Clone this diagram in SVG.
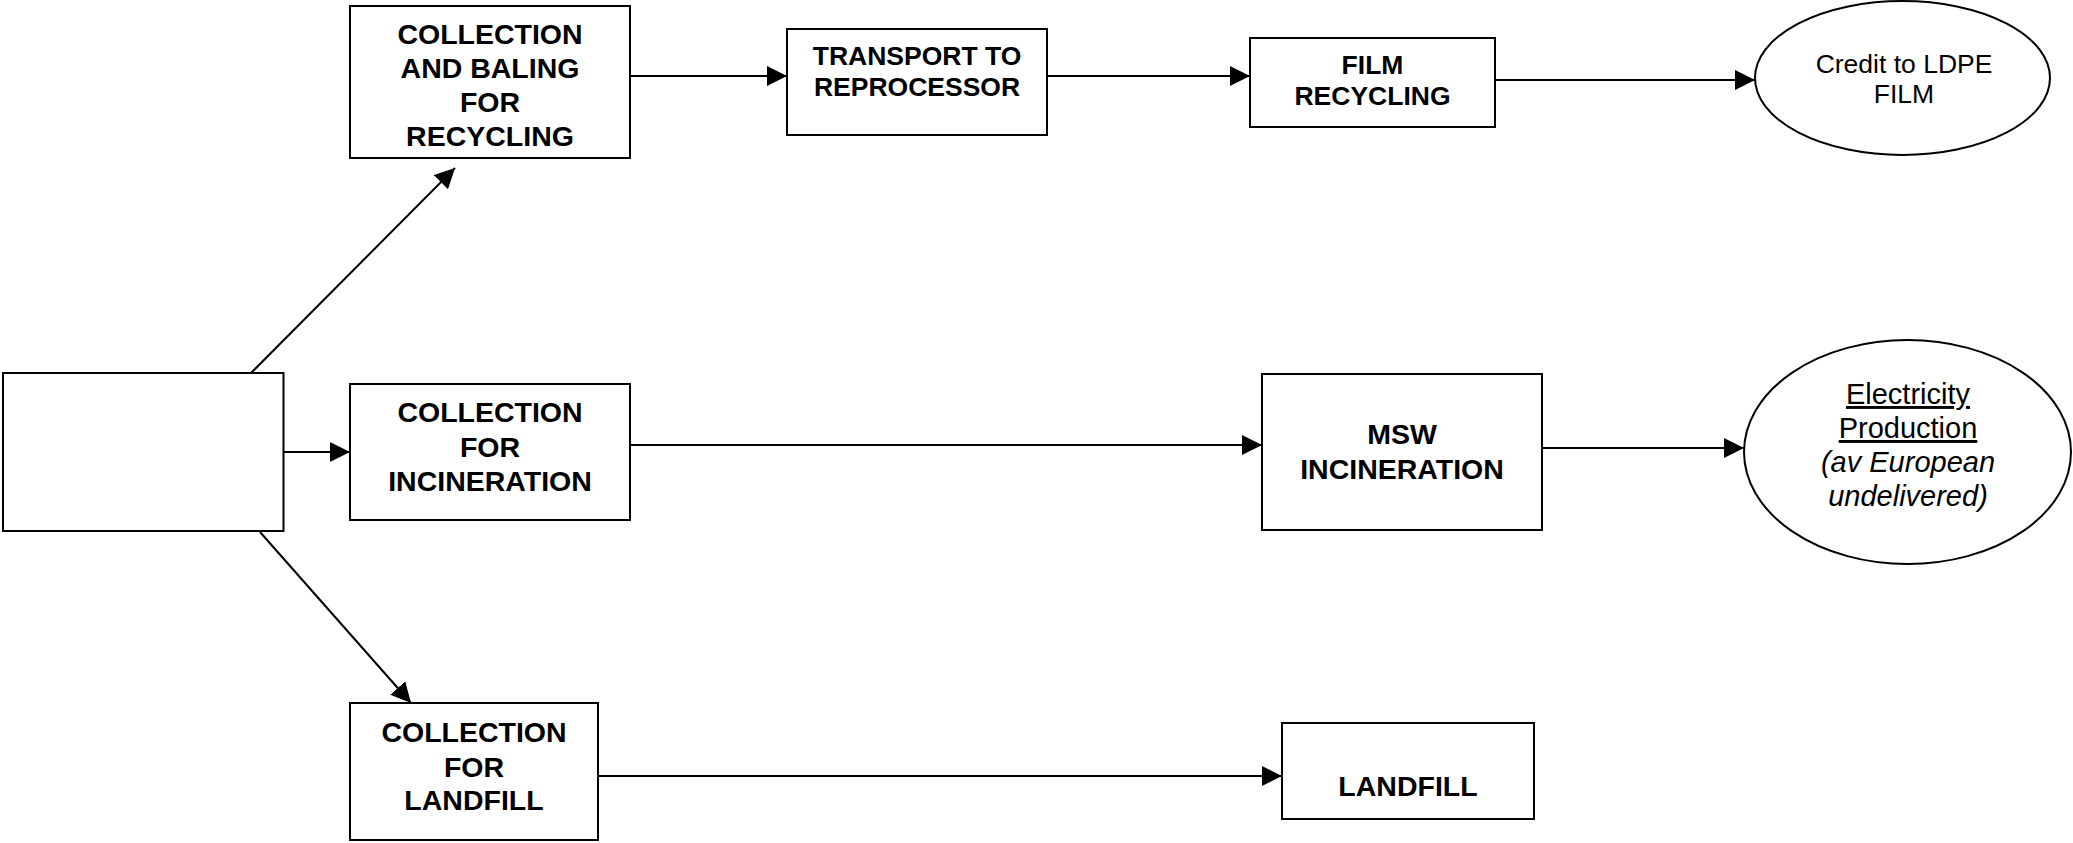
<svg xmlns="http://www.w3.org/2000/svg" width="2073" height="843" viewBox="0 0 2073 843">
  <style>
    .box { fill: #ffffff; stroke: #000000; stroke-width: 2; }
    .edge { fill: none; stroke: #000000; stroke-width: 2; marker-end: url(#arrow); }
    .lbl { font-family: "Liberation Sans", Arial, sans-serif; font-weight: bold; font-size: 28.5px; fill: #000000; text-anchor: middle; }
    .lbl-s { font-family: "Liberation Sans", Arial, sans-serif; font-weight: bold; font-size: 26.5px; fill: #000000; text-anchor: middle; }
    .out { font-family: "Liberation Sans", Arial, sans-serif; font-size: 26.5px; fill: #000000; text-anchor: middle; }
    .out-l { font-family: "Liberation Sans", Arial, sans-serif; font-size: 29px; fill: #000000; text-anchor: middle; }
  </style>
  <defs>
    <marker id="arrow" markerUnits="userSpaceOnUse" markerWidth="20" markerHeight="20" refX="20" refY="10" orient="auto">
      <path d="M0,0 L20,10 L0,20 Z" fill="#000000"/>
    </marker>
  </defs>
  <rect width="2073" height="843" fill="#ffffff"/>

  <g id="connectors">
    <line class="edge" x1="248" y1="376" x2="455" y2="168"/>
    <line class="edge" x1="284" y1="452" x2="350" y2="452"/>
    <line class="edge" x1="260" y1="532" x2="411" y2="703"/>
    <line class="edge" x1="630" y1="76" x2="787" y2="76"/>
    <line class="edge" x1="1047" y1="76" x2="1250" y2="76"/>
    <line class="edge" x1="1495" y1="80" x2="1755" y2="80"/>
    <line class="edge" x1="630" y1="445" x2="1262" y2="445"/>
    <line class="edge" x1="1542" y1="448" x2="1744" y2="448"/>
    <line class="edge" x1="598" y1="776" x2="1282" y2="776"/>
  </g>

  <g id="source">
    <rect class="box" x="3" y="373" width="280.5" height="158"/>
  </g>

  <g id="collection-baling">
    <rect class="box" x="350" y="6" width="280" height="152"/>
    <text class="lbl" x="490" y="44">COLLECTION</text>
    <text class="lbl" x="490" y="78">AND BALING</text>
    <text class="lbl" x="490" y="112">FOR</text>
    <text class="lbl" x="490" y="146">RECYCLING</text>
  </g>

  <g id="transport">
    <rect class="box" x="787" y="29" width="260" height="106"/>
    <text class="lbl-s" x="917" y="65">TRANSPORT TO</text>
    <text class="lbl-s" x="917" y="96">REPROCESSOR</text>
  </g>

  <g id="film-recycling">
    <rect class="box" x="1250" y="38" width="245" height="89"/>
    <text class="lbl-s" x="1372.5" y="74">FILM</text>
    <text class="lbl-s" x="1372.5" y="105">RECYCLING</text>
  </g>

  <g id="credit-ldpe">
    <ellipse class="box" cx="1902.5" cy="78" rx="147.5" ry="77"/>
    <text class="out" x="1904" y="73">Credit to LDPE</text>
    <text class="out" x="1904" y="103">FILM</text>
  </g>

  <g id="collection-incineration">
    <rect class="box" x="350" y="384" width="280" height="136"/>
    <text class="lbl" x="490" y="422">COLLECTION</text>
    <text class="lbl" x="490" y="457">FOR</text>
    <text class="lbl" x="490" y="491">INCINERATION</text>
  </g>

  <g id="msw-incineration">
    <rect class="box" x="1262" y="374" width="280" height="156"/>
    <text class="lbl" x="1402" y="444">MSW</text>
    <text class="lbl" x="1402" y="479">INCINERATION</text>
  </g>

  <g id="electricity">
    <ellipse class="box" cx="1907.5" cy="452" rx="163.5" ry="112"/>
    <text class="out-l" x="1908" y="404" text-decoration="underline">Electricity</text>
    <text class="out-l" x="1908" y="438" text-decoration="underline">Production</text>
    <text class="out-l" x="1908" y="472" font-style="italic">(av European</text>
    <text class="out-l" x="1908" y="506" font-style="italic">undelivered)</text>
  </g>

  <g id="collection-landfill">
    <rect class="box" x="350" y="703" width="248" height="137"/>
    <text class="lbl" x="474" y="742">COLLECTION</text>
    <text class="lbl" x="474" y="777">FOR</text>
    <text class="lbl" x="474" y="810">LANDFILL</text>
  </g>

  <g id="landfill">
    <rect class="box" x="1282" y="723" width="252" height="96"/>
    <text class="lbl" x="1408" y="796">LANDFILL</text>
  </g>
</svg>
